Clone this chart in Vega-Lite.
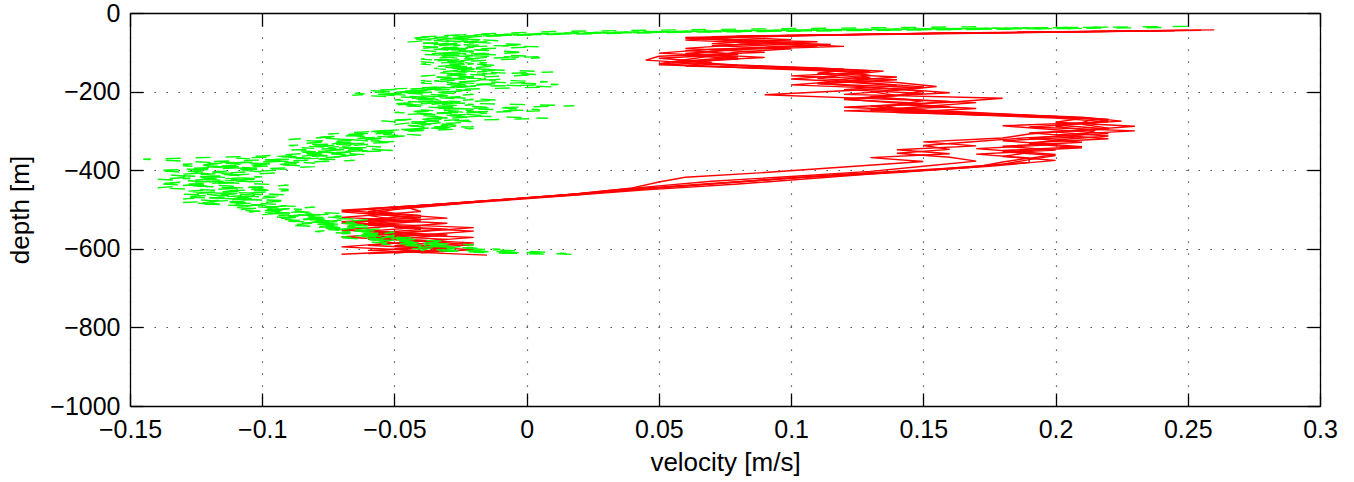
{
"$schema":"https://vega.github.io/schema/vega-lite/v6.json",
"width":1190,"height":393,
"autosize":"none",
"padding":{"left":130,"top":13,"right":34,"bottom":76},
"background":"white",
"config":{"view":{"stroke":null},
"axis":{"domainColor":"black","domainWidth":1.3,"tickColor":"black","tickWidth":1.3,"tickSize":-13,
"labelFont":"Liberation Sans","labelFontSize":25,"labelColor":"black",
"titleFont":"Liberation Sans","titleFontSize":26,"titleFontWeight":"normal","titleColor":"black",
"gridColor":"black","gridDash":[1.3,10.7],"gridWidth":1.2,"gridOpacity":0.8}},
"datasets":{
"red":[
{"s":1,"d":-43,"v":0.26},{"s":1,"d":-48,"v":0.2},{"s":1,"d":-55,"v":0.12},{"s":1,"d":-62,"v":0.06},{"s":1,"d":-70,"v":0.09},{"s":1,"d":-78,"v":0.07},{"s":1,"d":-86,"v":0.1},{"s":1,"d":-95,"v":0.06},{"s":1,"d":-105,"v":0.08},{"s":1,"d":-115,"v":0.05},{"s":1,"d":-125,"v":0.07},{"s":1,"d":-135,"v":0.06},{"s":1,"d":-145,"v":0.12},{"s":1,"d":-155,"v":0.11},{"s":1,"d":-165,"v":0.13},{"s":1,"d":-175,"v":0.12},{"s":1,"d":-185,"v":0.14},{"s":1,"d":-195,"v":0.12},{"s":1,"d":-205,"v":0.15},{"s":1,"d":-215,"v":0.13},{"s":1,"d":-225,"v":0.16},{"s":1,"d":-235,"v":0.14},{"s":1,"d":-245,"v":0.13},{"s":1,"d":-255,"v":0.17},{"s":1,"d":-265,"v":0.21},{"s":1,"d":-275,"v":0.225},{"s":1,"d":-285,"v":0.2},{"s":1,"d":-295,"v":0.22},{"s":1,"d":-305,"v":0.19},{"s":1,"d":-315,"v":0.21},{"s":1,"d":-325,"v":0.18},{"s":1,"d":-335,"v":0.2},{"s":1,"d":-345,"v":0.17},{"s":1,"d":-355,"v":0.19},{"s":1,"d":-365,"v":0.18},{"s":1,"d":-375,"v":0.2},{"s":1,"d":-390,"v":0.175},{"s":1,"d":-405,"v":0.14},{"s":1,"d":-420,"v":0.11},{"s":1,"d":-435,"v":0.08},{"s":1,"d":-450,"v":0.045},{"s":1,"d":-465,"v":0.015},{"s":1,"d":-480,"v":-0.015},{"s":1,"d":-495,"v":-0.045},{"s":1,"d":-505,"v":-0.04},{"s":1,"d":-515,"v":-0.06},{"s":1,"d":-525,"v":-0.05},{"s":1,"d":-535,"v":-0.07},{"s":1,"d":-545,"v":-0.04},{"s":1,"d":-555,"v":-0.06},{"s":1,"d":-565,"v":-0.03},{"s":1,"d":-575,"v":-0.05},{"s":1,"d":-585,"v":-0.02},{"s":1,"d":-595,"v":-0.04},{"s":1,"d":-605,"v":-0.03},{"s":1,"d":-612,"v":-0.06},
{"s":2,"d":-45,"v":0.24},{"s":2,"d":-52,"v":0.15},{"s":2,"d":-60,"v":0.07},{"s":2,"d":-68,"v":0.1},{"s":2,"d":-76,"v":0.08},{"s":2,"d":-84,"v":0.11},{"s":2,"d":-92,"v":0.07},{"s":2,"d":-102,"v":0.05},{"s":2,"d":-112,"v":0.08},{"s":2,"d":-122,"v":0.06},{"s":2,"d":-132,"v":0.05},{"s":2,"d":-142,"v":0.1},{"s":2,"d":-150,"v":0.13},{"s":2,"d":-160,"v":0.1},{"s":2,"d":-170,"v":0.14},{"s":2,"d":-180,"v":0.11},{"s":2,"d":-190,"v":0.15},{"s":2,"d":-200,"v":0.13},{"s":2,"d":-210,"v":0.14},{"s":2,"d":-220,"v":0.12},{"s":2,"d":-230,"v":0.15},{"s":2,"d":-240,"v":0.12},{"s":2,"d":-250,"v":0.16},{"s":2,"d":-260,"v":0.19},{"s":2,"d":-270,"v":0.22},{"s":2,"d":-280,"v":0.215},{"s":2,"d":-290,"v":0.19},{"s":2,"d":-300,"v":0.23},{"s":2,"d":-310,"v":0.2},{"s":2,"d":-320,"v":0.22},{"s":2,"d":-330,"v":0.19},{"s":2,"d":-340,"v":0.21},{"s":2,"d":-350,"v":0.18},{"s":2,"d":-360,"v":0.2},{"s":2,"d":-370,"v":0.19},{"s":2,"d":-380,"v":0.19},{"s":2,"d":-395,"v":0.16},{"s":2,"d":-410,"v":0.12},{"s":2,"d":-425,"v":0.09},{"s":2,"d":-440,"v":0.06},{"s":2,"d":-455,"v":0.03},{"s":2,"d":-470,"v":0.0},{"s":2,"d":-485,"v":-0.03},{"s":2,"d":-498,"v":-0.06},{"s":2,"d":-510,"v":-0.05},{"s":2,"d":-520,"v":-0.07},{"s":2,"d":-530,"v":-0.04},{"s":2,"d":-540,"v":-0.06},{"s":2,"d":-550,"v":-0.03},{"s":2,"d":-560,"v":-0.05},{"s":2,"d":-570,"v":-0.07},{"s":2,"d":-580,"v":-0.04},{"s":2,"d":-590,"v":-0.02},{"s":2,"d":-600,"v":-0.05},{"s":2,"d":-608,"v":-0.04},
{"s":3,"d":-44,"v":0.25},{"s":3,"d":-50,"v":0.17},{"s":3,"d":-58,"v":0.09},{"s":3,"d":-65,"v":0.06},{"s":3,"d":-73,"v":0.11},{"s":3,"d":-81,"v":0.08},{"s":3,"d":-90,"v":0.06},{"s":3,"d":-100,"v":0.09},{"s":3,"d":-110,"v":0.05},{"s":3,"d":-120,"v":0.045},{"s":3,"d":-130,"v":0.07},{"s":3,"d":-140,"v":0.11},{"s":3,"d":-148,"v":0.135},{"s":3,"d":-158,"v":0.12},{"s":3,"d":-168,"v":0.1},{"s":3,"d":-178,"v":0.13},{"s":3,"d":-188,"v":0.15},{"s":3,"d":-198,"v":0.12},{"s":3,"d":-208,"v":0.09},{"s":3,"d":-218,"v":0.13},{"s":3,"d":-228,"v":0.17},{"s":3,"d":-238,"v":0.15},{"s":3,"d":-248,"v":0.13},{"s":3,"d":-258,"v":0.18},{"s":3,"d":-268,"v":0.21},{"s":3,"d":-278,"v":0.2},{"s":3,"d":-288,"v":0.23},{"s":3,"d":-298,"v":0.21},{"s":3,"d":-308,"v":0.19},{"s":3,"d":-318,"v":0.18},{"s":3,"d":-328,"v":0.15},{"s":3,"d":-338,"v":0.17},{"s":3,"d":-348,"v":0.14},{"s":3,"d":-358,"v":0.16},{"s":3,"d":-368,"v":0.13},{"s":3,"d":-378,"v":0.15},{"s":3,"d":-392,"v":0.12},{"s":3,"d":-406,"v":0.09},{"s":3,"d":-418,"v":0.06},{"s":3,"d":-430,"v":0.05},{"s":3,"d":-445,"v":0.04},{"s":3,"d":-460,"v":0.02},{"s":3,"d":-475,"v":-0.01},{"s":3,"d":-490,"v":-0.04},{"s":3,"d":-502,"v":-0.07},{"s":3,"d":-512,"v":-0.05},{"s":3,"d":-522,"v":-0.03},{"s":3,"d":-532,"v":-0.06},{"s":3,"d":-542,"v":-0.05},{"s":3,"d":-552,"v":-0.07},{"s":3,"d":-562,"v":-0.04},{"s":3,"d":-572,"v":-0.06},{"s":3,"d":-582,"v":-0.03},{"s":3,"d":-592,"v":-0.05},{"s":3,"d":-602,"v":-0.02},{"s":3,"d":-610,"v":-0.04},
{"s":4,"d":-46,"v":0.23},{"s":4,"d":-53,"v":0.14},{"s":4,"d":-61,"v":0.08},{"s":4,"d":-69,"v":0.06},{"s":4,"d":-77,"v":0.09},{"s":4,"d":-85,"v":0.12},{"s":4,"d":-93,"v":0.08},{"s":4,"d":-103,"v":0.06},{"s":4,"d":-113,"v":0.09},{"s":4,"d":-123,"v":0.06},{"s":4,"d":-133,"v":0.08},{"s":4,"d":-143,"v":0.12},{"s":4,"d":-153,"v":0.11},{"s":4,"d":-163,"v":0.14},{"s":4,"d":-173,"v":0.12},{"s":4,"d":-183,"v":0.1},{"s":4,"d":-193,"v":0.14},{"s":4,"d":-203,"v":0.16},{"s":4,"d":-213,"v":0.13},{"s":4,"d":-223,"v":0.15},{"s":4,"d":-233,"v":0.14},{"s":4,"d":-243,"v":0.17},{"s":4,"d":-253,"v":0.14},{"s":4,"d":-263,"v":0.2},{"s":4,"d":-273,"v":0.22},{"s":4,"d":-283,"v":0.21},{"s":4,"d":-293,"v":0.22},{"s":4,"d":-303,"v":0.2},{"s":4,"d":-313,"v":0.22},{"s":4,"d":-323,"v":0.2},{"s":4,"d":-333,"v":0.19},{"s":4,"d":-343,"v":0.21},{"s":4,"d":-353,"v":0.18},{"s":4,"d":-363,"v":0.2},{"s":4,"d":-373,"v":0.19},{"s":4,"d":-385,"v":0.18},{"s":4,"d":-400,"v":0.15},{"s":4,"d":-415,"v":0.11},{"s":4,"d":-430,"v":0.08},{"s":4,"d":-445,"v":0.05},{"s":4,"d":-460,"v":0.02},{"s":4,"d":-475,"v":-0.01},{"s":4,"d":-490,"v":-0.04},{"s":4,"d":-505,"v":-0.06},{"s":4,"d":-515,"v":-0.04},{"s":4,"d":-525,"v":-0.06},{"s":4,"d":-535,"v":-0.03},{"s":4,"d":-545,"v":-0.05},{"s":4,"d":-555,"v":-0.02},{"s":4,"d":-565,"v":-0.04},{"s":4,"d":-575,"v":-0.06},{"s":4,"d":-585,"v":-0.05},{"s":4,"d":-595,"v":-0.07},{"s":4,"d":-605,"v":-0.04},{"s":4,"d":-614,"v":-0.07},
{"s":5,"d":-44,"v":0.255},{"s":5,"d":-50,"v":0.19},{"s":5,"d":-57,"v":0.11},{"s":5,"d":-64,"v":0.065},{"s":5,"d":-72,"v":0.08},{"s":5,"d":-80,"v":0.115},{"s":5,"d":-88,"v":0.09},{"s":5,"d":-97,"v":0.07},{"s":5,"d":-107,"v":0.06},{"s":5,"d":-117,"v":0.08},{"s":5,"d":-127,"v":0.055},{"s":5,"d":-137,"v":0.09},{"s":5,"d":-147,"v":0.13},{"s":5,"d":-157,"v":0.12},{"s":5,"d":-167,"v":0.11},{"s":5,"d":-177,"v":0.14},{"s":5,"d":-187,"v":0.155},{"s":5,"d":-197,"v":0.14},{"s":5,"d":-207,"v":0.12},{"s":5,"d":-217,"v":0.18},{"s":5,"d":-227,"v":0.16},{"s":5,"d":-237,"v":0.13},{"s":5,"d":-247,"v":0.15},{"s":5,"d":-257,"v":0.16},{"s":5,"d":-267,"v":0.2},{"s":5,"d":-277,"v":0.22},{"s":5,"d":-287,"v":0.18},{"s":5,"d":-297,"v":0.2},{"s":5,"d":-307,"v":0.22},{"s":5,"d":-317,"v":0.19},{"s":5,"d":-327,"v":0.17},{"s":5,"d":-337,"v":0.15},{"s":5,"d":-347,"v":0.16},{"s":5,"d":-357,"v":0.14},{"s":5,"d":-367,"v":0.16},{"s":5,"d":-377,"v":0.17},{"s":5,"d":-390,"v":0.15},{"s":5,"d":-403,"v":0.13},{"s":5,"d":-416,"v":0.1},{"s":5,"d":-428,"v":0.07},{"s":5,"d":-440,"v":0.05},{"s":5,"d":-452,"v":0.03},{"s":5,"d":-466,"v":0.01},{"s":5,"d":-480,"v":-0.02},{"s":5,"d":-494,"v":-0.05},{"s":5,"d":-506,"v":-0.07},{"s":5,"d":-516,"v":-0.05},{"s":5,"d":-526,"v":-0.04},{"s":5,"d":-536,"v":-0.06},{"s":5,"d":-546,"v":-0.02},{"s":5,"d":-556,"v":-0.04},{"s":5,"d":-566,"v":-0.06},{"s":5,"d":-576,"v":-0.03},{"s":5,"d":-586,"v":-0.05},{"s":5,"d":-596,"v":-0.03},{"s":5,"d":-604,"v":-0.06},{"s":5,"d":-616,"v":-0.015},
{"s":6,"d":-45,"v":0.245},{"s":6,"d":-51,"v":0.16},{"s":6,"d":-59,"v":0.08},{"s":6,"d":-67,"v":0.07},{"s":6,"d":-75,"v":0.1},{"s":6,"d":-83,"v":0.07},{"s":6,"d":-91,"v":0.1},{"s":6,"d":-99,"v":0.08},{"s":6,"d":-109,"v":0.07},{"s":6,"d":-119,"v":0.06},{"s":6,"d":-129,"v":0.05},{"s":6,"d":-139,"v":0.08},{"s":6,"d":-149,"v":0.12},{"s":6,"d":-159,"v":0.13},{"s":6,"d":-169,"v":0.12},{"s":6,"d":-179,"v":0.11},{"s":6,"d":-189,"v":0.13},{"s":6,"d":-199,"v":0.15},{"s":6,"d":-209,"v":0.14},{"s":6,"d":-219,"v":0.12},{"s":6,"d":-229,"v":0.14},{"s":6,"d":-239,"v":0.16},{"s":6,"d":-249,"v":0.12},{"s":6,"d":-259,"v":0.17},{"s":6,"d":-269,"v":0.215},{"s":6,"d":-279,"v":0.21},{"s":6,"d":-289,"v":0.2},{"s":6,"d":-299,"v":0.215},{"s":6,"d":-309,"v":0.21},{"s":6,"d":-319,"v":0.19},{"s":6,"d":-329,"v":0.21},{"s":6,"d":-339,"v":0.18},{"s":6,"d":-349,"v":0.2},{"s":6,"d":-359,"v":0.17},{"s":6,"d":-369,"v":0.19},{"s":6,"d":-379,"v":0.18},{"s":6,"d":-392,"v":0.17},{"s":6,"d":-406,"v":0.14},{"s":6,"d":-420,"v":0.1},{"s":6,"d":-434,"v":0.07},{"s":6,"d":-448,"v":0.04},{"s":6,"d":-462,"v":0.02},{"s":6,"d":-476,"v":-0.01},{"s":6,"d":-488,"v":-0.03},{"s":6,"d":-500,"v":-0.05},{"s":6,"d":-511,"v":-0.06},{"s":6,"d":-521,"v":-0.04},{"s":6,"d":-531,"v":-0.07},{"s":6,"d":-541,"v":-0.05},{"s":6,"d":-551,"v":-0.04},{"s":6,"d":-561,"v":-0.06},{"s":6,"d":-571,"v":-0.02},{"s":6,"d":-581,"v":-0.04},{"s":6,"d":-591,"v":-0.06},{"s":6,"d":-601,"v":-0.03},{"s":6,"d":-611,"v":-0.05}
],
"green":[
{"s":1,"d":-36,"v":0.22},{"s":1,"d":-42,"v":0.12},{"s":1,"d":-48,"v":0.04},{"s":1,"d":-55,"v":-0.01},{"s":1,"d":-62,"v":-0.035},{"s":1,"d":-70,"v":-0.02},{"s":1,"d":-78,"v":-0.04},{"s":1,"d":-86,"v":0.005},{"s":1,"d":-94,"v":-0.03},{"s":1,"d":-102,"v":-0.015},{"s":1,"d":-110,"v":-0.035},{"s":1,"d":-118,"v":-0.02},{"s":1,"d":-126,"v":-0.03},{"s":1,"d":-134,"v":-0.01},{"s":1,"d":-142,"v":-0.025},{"s":1,"d":-150,"v":0.01},{"s":1,"d":-158,"v":-0.03},{"s":1,"d":-166,"v":-0.015},{"s":1,"d":-174,"v":-0.02},{"s":1,"d":-182,"v":0.012},{"s":1,"d":-190,"v":-0.04},{"s":1,"d":-198,"v":-0.02},{"s":1,"d":-206,"v":-0.055},{"s":1,"d":-214,"v":-0.03},{"s":1,"d":-222,"v":-0.01},{"s":1,"d":-230,"v":-0.04},{"s":1,"d":-238,"v":-0.02},{"s":1,"d":-246,"v":0.005},{"s":1,"d":-254,"v":-0.03},{"s":1,"d":-262,"v":-0.015},{"s":1,"d":-270,"v":-0.04},{"s":1,"d":-278,"v":-0.03},{"s":1,"d":-286,"v":-0.045},{"s":1,"d":-294,"v":-0.02},{"s":1,"d":-302,"v":-0.05},{"s":1,"d":-310,"v":-0.07},{"s":1,"d":-318,"v":-0.055},{"s":1,"d":-326,"v":-0.08},{"s":1,"d":-334,"v":-0.06},{"s":1,"d":-342,"v":-0.075},{"s":1,"d":-350,"v":-0.05},{"s":1,"d":-358,"v":-0.085},{"s":1,"d":-366,"v":-0.07},{"s":1,"d":-374,"v":-0.1},{"s":1,"d":-382,"v":-0.08},{"s":1,"d":-390,"v":-0.12},{"s":1,"d":-398,"v":-0.09},{"s":1,"d":-406,"v":-0.11},{"s":1,"d":-414,"v":-0.13},{"s":1,"d":-422,"v":-0.1},{"s":1,"d":-430,"v":-0.12},{"s":1,"d":-438,"v":-0.09},{"s":1,"d":-446,"v":-0.11},{"s":1,"d":-454,"v":-0.13},{"s":1,"d":-462,"v":-0.1},{"s":1,"d":-470,"v":-0.12},{"s":1,"d":-478,"v":-0.09},{"s":1,"d":-486,"v":-0.11},{"s":1,"d":-494,"v":-0.08},{"s":1,"d":-502,"v":-0.1},{"s":1,"d":-510,"v":-0.07},{"s":1,"d":-518,"v":-0.09},{"s":1,"d":-526,"v":-0.06},{"s":1,"d":-534,"v":-0.08},{"s":1,"d":-542,"v":-0.06},{"s":1,"d":-550,"v":-0.07},{"s":1,"d":-558,"v":-0.05},{"s":1,"d":-566,"v":-0.06},{"s":1,"d":-574,"v":-0.04},{"s":1,"d":-582,"v":-0.05},{"s":1,"d":-590,"v":-0.02},{"s":1,"d":-598,"v":-0.03},{"s":1,"d":-606,"v":0.0},{"s":1,"d":-612,"v":0.015},
{"s":2,"d":-38,"v":0.19},{"s":2,"d":-44,"v":0.09},{"s":2,"d":-50,"v":0.02},{"s":2,"d":-57,"v":-0.03},{"s":2,"d":-65,"v":-0.045},{"s":2,"d":-73,"v":-0.025},{"s":2,"d":-81,"v":0.0},{"s":2,"d":-89,"v":-0.035},{"s":2,"d":-97,"v":-0.02},{"s":2,"d":-105,"v":-0.04},{"s":2,"d":-113,"v":-0.015},{"s":2,"d":-121,"v":-0.03},{"s":2,"d":-129,"v":-0.02},{"s":2,"d":-137,"v":-0.035},{"s":2,"d":-145,"v":-0.01},{"s":2,"d":-153,"v":-0.025},{"s":2,"d":-161,"v":-0.04},{"s":2,"d":-169,"v":-0.01},{"s":2,"d":-177,"v":-0.03},{"s":2,"d":-185,"v":-0.02},{"s":2,"d":-193,"v":-0.05},{"s":2,"d":-201,"v":-0.03},{"s":2,"d":-209,"v":-0.066},{"s":2,"d":-217,"v":-0.035},{"s":2,"d":-225,"v":-0.045},{"s":2,"d":-233,"v":-0.02},{"s":2,"d":-241,"v":-0.035},{"s":2,"d":-249,"v":0.005},{"s":2,"d":-257,"v":-0.04},{"s":2,"d":-265,"v":-0.02},{"s":2,"d":-273,"v":-0.05},{"s":2,"d":-281,"v":-0.035},{"s":2,"d":-289,"v":-0.02},{"s":2,"d":-297,"v":-0.05},{"s":2,"d":-305,"v":-0.065},{"s":2,"d":-313,"v":-0.045},{"s":2,"d":-321,"v":-0.07},{"s":2,"d":-329,"v":-0.05},{"s":2,"d":-337,"v":-0.09},{"s":2,"d":-345,"v":-0.065},{"s":2,"d":-353,"v":-0.08},{"s":2,"d":-361,"v":-0.06},{"s":2,"d":-369,"v":-0.11},{"s":2,"d":-377,"v":-0.09},{"s":2,"d":-385,"v":-0.13},{"s":2,"d":-393,"v":-0.11},{"s":2,"d":-401,"v":-0.14},{"s":2,"d":-409,"v":-0.12},{"s":2,"d":-417,"v":-0.1},{"s":2,"d":-425,"v":-0.125},{"s":2,"d":-433,"v":-0.135},{"s":2,"d":-441,"v":-0.11},{"s":2,"d":-449,"v":-0.09},{"s":2,"d":-457,"v":-0.12},{"s":2,"d":-465,"v":-0.1},{"s":2,"d":-473,"v":-0.13},{"s":2,"d":-481,"v":-0.11},{"s":2,"d":-489,"v":-0.09},{"s":2,"d":-497,"v":-0.1},{"s":2,"d":-505,"v":-0.085},{"s":2,"d":-513,"v":-0.1},{"s":2,"d":-521,"v":-0.075},{"s":2,"d":-529,"v":-0.09},{"s":2,"d":-537,"v":-0.07},{"s":2,"d":-545,"v":-0.08},{"s":2,"d":-553,"v":-0.06},{"s":2,"d":-561,"v":-0.07},{"s":2,"d":-569,"v":-0.05},{"s":2,"d":-577,"v":-0.06},{"s":2,"d":-585,"v":-0.035},{"s":2,"d":-593,"v":-0.04},{"s":2,"d":-601,"v":-0.01},{"s":2,"d":-609,"v":-0.02},{"s":2,"d":-614,"v":0.01},
{"s":3,"d":-37,"v":0.24},{"s":3,"d":-43,"v":0.15},{"s":3,"d":-49,"v":0.06},{"s":3,"d":-56,"v":0.0},{"s":3,"d":-63,"v":-0.03},{"s":3,"d":-71,"v":-0.01},{"s":3,"d":-79,"v":-0.03},{"s":3,"d":-87,"v":-0.02},{"s":3,"d":-95,"v":-0.04},{"s":3,"d":-103,"v":-0.025},{"s":3,"d":-111,"v":0.005},{"s":3,"d":-119,"v":-0.035},{"s":3,"d":-127,"v":-0.015},{"s":3,"d":-135,"v":-0.03},{"s":3,"d":-143,"v":-0.02},{"s":3,"d":-151,"v":-0.035},{"s":3,"d":-159,"v":-0.015},{"s":3,"d":-167,"v":-0.03},{"s":3,"d":-175,"v":0.008},{"s":3,"d":-183,"v":-0.025},{"s":3,"d":-191,"v":-0.03},{"s":3,"d":-199,"v":-0.045},{"s":3,"d":-207,"v":-0.02},{"s":3,"d":-215,"v":-0.04},{"s":3,"d":-223,"v":-0.03},{"s":3,"d":-231,"v":-0.05},{"s":3,"d":-239,"v":-0.025},{"s":3,"d":-247,"v":-0.04},{"s":3,"d":-255,"v":-0.015},{"s":3,"d":-263,"v":-0.035},{"s":3,"d":-271,"v":-0.025},{"s":3,"d":-279,"v":-0.045},{"s":3,"d":-287,"v":-0.03},{"s":3,"d":-295,"v":-0.04},{"s":3,"d":-303,"v":-0.06},{"s":3,"d":-311,"v":-0.04},{"s":3,"d":-319,"v":-0.065},{"s":3,"d":-327,"v":-0.05},{"s":3,"d":-335,"v":-0.07},{"s":3,"d":-343,"v":-0.085},{"s":3,"d":-351,"v":-0.06},{"s":3,"d":-359,"v":-0.075},{"s":3,"d":-367,"v":-0.09},{"s":3,"d":-375,"v":-0.065},{"s":3,"d":-383,"v":-0.1},{"s":3,"d":-391,"v":-0.08},{"s":3,"d":-399,"v":-0.11},{"s":3,"d":-407,"v":-0.095},{"s":3,"d":-415,"v":-0.12},{"s":3,"d":-423,"v":-0.14},{"s":3,"d":-431,"v":-0.115},{"s":3,"d":-439,"v":-0.13},{"s":3,"d":-447,"v":-0.1},{"s":3,"d":-455,"v":-0.115},{"s":3,"d":-463,"v":-0.09},{"s":3,"d":-471,"v":-0.11},{"s":3,"d":-479,"v":-0.12},{"s":3,"d":-487,"v":-0.1},{"s":3,"d":-495,"v":-0.11},{"s":3,"d":-503,"v":-0.09},{"s":3,"d":-511,"v":-0.08},{"s":3,"d":-519,"v":-0.095},{"s":3,"d":-527,"v":-0.07},{"s":3,"d":-535,"v":-0.085},{"s":3,"d":-543,"v":-0.065},{"s":3,"d":-551,"v":-0.075},{"s":3,"d":-559,"v":-0.055},{"s":3,"d":-567,"v":-0.065},{"s":3,"d":-575,"v":-0.045},{"s":3,"d":-583,"v":-0.06},{"s":3,"d":-591,"v":-0.03},{"s":3,"d":-599,"v":-0.045},{"s":3,"d":-607,"v":-0.015},{"s":3,"d":-613,"v":0.0},
{"s":4,"d":-35,"v":0.17},{"s":4,"d":-41,"v":0.08},{"s":4,"d":-47,"v":0.01},{"s":4,"d":-54,"v":-0.02},{"s":4,"d":-61,"v":-0.04},{"s":4,"d":-69,"v":-0.015},{"s":4,"d":-77,"v":-0.03},{"s":4,"d":-85,"v":-0.04},{"s":4,"d":-93,"v":-0.015},{"s":4,"d":-101,"v":-0.03},{"s":4,"d":-109,"v":-0.02},{"s":4,"d":-117,"v":-0.04},{"s":4,"d":-125,"v":-0.025},{"s":4,"d":-133,"v":-0.015},{"s":4,"d":-141,"v":-0.035},{"s":4,"d":-149,"v":-0.02},{"s":4,"d":-157,"v":0.005},{"s":4,"d":-165,"v":-0.025},{"s":4,"d":-173,"v":-0.035},{"s":4,"d":-181,"v":-0.015},{"s":4,"d":-189,"v":-0.025},{"s":4,"d":-197,"v":-0.06},{"s":4,"d":-205,"v":-0.04},{"s":4,"d":-213,"v":-0.025},{"s":4,"d":-221,"v":-0.05},{"s":4,"d":-229,"v":-0.03},{"s":4,"d":-237,"v":-0.045},{"s":4,"d":-245,"v":-0.02},{"s":4,"d":-253,"v":-0.05},{"s":4,"d":-261,"v":-0.025},{"s":4,"d":-269,"v":-0.035},{"s":4,"d":-277,"v":-0.02},{"s":4,"d":-285,"v":-0.04},{"s":4,"d":-293,"v":-0.03},{"s":4,"d":-301,"v":-0.045},{"s":4,"d":-309,"v":-0.06},{"s":4,"d":-317,"v":-0.08},{"s":4,"d":-325,"v":-0.06},{"s":4,"d":-333,"v":-0.075},{"s":4,"d":-341,"v":-0.055},{"s":4,"d":-349,"v":-0.09},{"s":4,"d":-357,"v":-0.07},{"s":4,"d":-365,"v":-0.095},{"s":4,"d":-373,"v":-0.075},{"s":4,"d":-381,"v":-0.11},{"s":4,"d":-389,"v":-0.13},{"s":4,"d":-397,"v":-0.1},{"s":4,"d":-405,"v":-0.12},{"s":4,"d":-413,"v":-0.11},{"s":4,"d":-421,"v":-0.13},{"s":4,"d":-429,"v":-0.105},{"s":4,"d":-437,"v":-0.125},{"s":4,"d":-445,"v":-0.14},{"s":4,"d":-453,"v":-0.11},{"s":4,"d":-461,"v":-0.13},{"s":4,"d":-469,"v":-0.095},{"s":4,"d":-477,"v":-0.115},{"s":4,"d":-485,"v":-0.125},{"s":4,"d":-493,"v":-0.095},{"s":4,"d":-501,"v":-0.11},{"s":4,"d":-509,"v":-0.09},{"s":4,"d":-517,"v":-0.07},{"s":4,"d":-525,"v":-0.085},{"s":4,"d":-533,"v":-0.065},{"s":4,"d":-541,"v":-0.075},{"s":4,"d":-549,"v":-0.055},{"s":4,"d":-557,"v":-0.07},{"s":4,"d":-565,"v":-0.05},{"s":4,"d":-573,"v":-0.055},{"s":4,"d":-581,"v":-0.03},{"s":4,"d":-589,"v":-0.045},{"s":4,"d":-597,"v":-0.02},{"s":4,"d":-605,"v":-0.03},{"s":4,"d":-611,"v":0.005},
{"s":5,"d":-34,"v":0.25},{"s":5,"d":-40,"v":0.16},{"s":5,"d":-46,"v":0.07},{"s":5,"d":-53,"v":0.01},{"s":5,"d":-60,"v":-0.025},{"s":5,"d":-68,"v":-0.04},{"s":5,"d":-76,"v":-0.02},{"s":5,"d":-84,"v":-0.035},{"s":5,"d":-92,"v":-0.025},{"s":5,"d":-100,"v":0.0},{"s":5,"d":-108,"v":-0.03},{"s":5,"d":-116,"v":-0.02},{"s":5,"d":-124,"v":-0.04},{"s":5,"d":-132,"v":-0.025},{"s":5,"d":-140,"v":-0.03},{"s":5,"d":-148,"v":-0.015},{"s":5,"d":-156,"v":-0.03},{"s":5,"d":-164,"v":-0.02},{"s":5,"d":-172,"v":-0.04},{"s":5,"d":-180,"v":-0.025},{"s":5,"d":-188,"v":0.01},{"s":5,"d":-196,"v":-0.035},{"s":5,"d":-204,"v":-0.065},{"s":5,"d":-212,"v":-0.045},{"s":5,"d":-220,"v":-0.02},{"s":5,"d":-228,"v":-0.035},{"s":5,"d":-236,"v":0.018},{"s":5,"d":-244,"v":-0.03},{"s":5,"d":-252,"v":-0.045},{"s":5,"d":-260,"v":-0.03},{"s":5,"d":-268,"v":0.008},{"s":5,"d":-276,"v":-0.04},{"s":5,"d":-284,"v":-0.05},{"s":5,"d":-292,"v":-0.035},{"s":5,"d":-300,"v":-0.055},{"s":5,"d":-308,"v":-0.075},{"s":5,"d":-316,"v":-0.05},{"s":5,"d":-324,"v":-0.065},{"s":5,"d":-332,"v":-0.085},{"s":5,"d":-340,"v":-0.07},{"s":5,"d":-348,"v":-0.055},{"s":5,"d":-356,"v":-0.08},{"s":5,"d":-364,"v":-0.1},{"s":5,"d":-372,"v":-0.145},{"s":5,"d":-380,"v":-0.12},{"s":5,"d":-388,"v":-0.1},{"s":5,"d":-396,"v":-0.13},{"s":5,"d":-404,"v":-0.115},{"s":5,"d":-412,"v":-0.135},{"s":5,"d":-420,"v":-0.12},{"s":5,"d":-428,"v":-0.1},{"s":5,"d":-436,"v":-0.13},{"s":5,"d":-444,"v":-0.115},{"s":5,"d":-452,"v":-0.09},{"s":5,"d":-460,"v":-0.11},{"s":5,"d":-468,"v":-0.13},{"s":5,"d":-476,"v":-0.1},{"s":5,"d":-484,"v":-0.12},{"s":5,"d":-492,"v":-0.105},{"s":5,"d":-500,"v":-0.085},{"s":5,"d":-508,"v":-0.1},{"s":5,"d":-516,"v":-0.08},{"s":5,"d":-524,"v":-0.095},{"s":5,"d":-532,"v":-0.075},{"s":5,"d":-540,"v":-0.09},{"s":5,"d":-548,"v":-0.065},{"s":5,"d":-556,"v":-0.08},{"s":5,"d":-564,"v":-0.06},{"s":5,"d":-572,"v":-0.07},{"s":5,"d":-580,"v":-0.05},{"s":5,"d":-588,"v":-0.055},{"s":5,"d":-596,"v":-0.035},{"s":5,"d":-604,"v":-0.04},{"s":5,"d":-610,"v":-0.01},
{"s":6,"d":-39,"v":0.21},{"s":6,"d":-45,"v":0.11},{"s":6,"d":-51,"v":0.03},{"s":6,"d":-58,"v":-0.015},{"s":6,"d":-66,"v":-0.03},{"s":6,"d":-74,"v":-0.045},{"s":6,"d":-82,"v":-0.025},{"s":6,"d":-90,"v":-0.04},{"s":6,"d":-98,"v":-0.02},{"s":6,"d":-106,"v":-0.035},{"s":6,"d":-114,"v":0.005},{"s":6,"d":-122,"v":-0.02},{"s":6,"d":-130,"v":-0.04},{"s":6,"d":-138,"v":-0.02},{"s":6,"d":-146,"v":-0.03},{"s":6,"d":-154,"v":-0.015},{"s":6,"d":-162,"v":-0.035},{"s":6,"d":-170,"v":-0.025},{"s":6,"d":-178,"v":-0.04},{"s":6,"d":-186,"v":-0.02},{"s":6,"d":-194,"v":-0.035},{"s":6,"d":-202,"v":-0.05},{"s":6,"d":-210,"v":-0.03},{"s":6,"d":-218,"v":-0.045},{"s":6,"d":-226,"v":-0.025},{"s":6,"d":-234,"v":-0.05},{"s":6,"d":-242,"v":-0.03},{"s":6,"d":-250,"v":-0.02},{"s":6,"d":-258,"v":-0.045},{"s":6,"d":-266,"v":-0.03},{"s":6,"d":-274,"v":-0.055},{"s":6,"d":-282,"v":-0.04},{"s":6,"d":-290,"v":-0.025},{"s":6,"d":-298,"v":-0.045},{"s":6,"d":-306,"v":-0.055},{"s":6,"d":-314,"v":-0.07},{"s":6,"d":-322,"v":-0.09},{"s":6,"d":-330,"v":-0.07},{"s":6,"d":-338,"v":-0.08},{"s":6,"d":-346,"v":-0.06},{"s":6,"d":-354,"v":-0.085},{"s":6,"d":-362,"v":-0.065},{"s":6,"d":-370,"v":-0.08},{"s":6,"d":-378,"v":-0.12},{"s":6,"d":-386,"v":-0.09},{"s":6,"d":-394,"v":-0.11},{"s":6,"d":-402,"v":-0.13},{"s":6,"d":-410,"v":-0.105},{"s":6,"d":-418,"v":-0.125},{"s":6,"d":-426,"v":-0.11},{"s":6,"d":-434,"v":-0.14},{"s":6,"d":-442,"v":-0.12},{"s":6,"d":-450,"v":-0.105},{"s":6,"d":-458,"v":-0.125},{"s":6,"d":-466,"v":-0.115},{"s":6,"d":-474,"v":-0.1},{"s":6,"d":-482,"v":-0.13},{"s":6,"d":-490,"v":-0.11},{"s":6,"d":-498,"v":-0.09},{"s":6,"d":-506,"v":-0.105},{"s":6,"d":-514,"v":-0.085},{"s":6,"d":-522,"v":-0.07},{"s":6,"d":-530,"v":-0.09},{"s":6,"d":-538,"v":-0.06},{"s":6,"d":-546,"v":-0.08},{"s":6,"d":-554,"v":-0.065},{"s":6,"d":-562,"v":-0.055},{"s":6,"d":-570,"v":-0.07},{"s":6,"d":-578,"v":-0.045},{"s":6,"d":-586,"v":-0.05},{"s":6,"d":-594,"v":-0.025},{"s":6,"d":-602,"v":-0.035},{"s":6,"d":-608,"v":-0.005},{"s":6,"d":-615,"v":0.02}
]},
"layer":[
{"data":{"name":"red"},
"mark":{"type":"line","color":"#ff0000","strokeWidth":1.4,"clip":true},
"encoding":{
"x":{"field":"v","type":"quantitative","scale":{"domain":[-0.15,0.3],"nice":false,"zero":false},
"axis":{"orient":"bottom","title":"velocity [m/s]","values":[-0.15,-0.1,-0.05,0,0.05,0.1,0.15,0.2,0.25,0.3],"labelExpr":"replace(format(datum.value,'~g'),'-','\u2212')","labelPadding":24,"labelFlush":false,"labelOverlap":false,"titleX":595,"titleY":64,"titleBaseline":"alphabetic","titleAnchor":"middle","grid":true}},
"y":{"field":"d","type":"quantitative","scale":{"domain":[-1000,0],"nice":false,"zero":false},
"axis":{"orient":"left","title":"depth [m]","values":[-1000,-800,-600,-400,-200,0],"labelExpr":"replace(format(datum.value,'~g'),'-','\u2212')","labelPadding":23,"labelFlush":false,"labelOverlap":false,"titleX":-102,"titleY":196.5,"titleAngle":-90,"titleBaseline":"alphabetic","titleAnchor":"middle","grid":true}},
"detail":{"field":"s"},
"order":{"field":"d","sort":"descending"}}},
{"data":{"name":"green"},
"mark":{"type":"line","color":"#00ff00","strokeWidth":1.4,"strokeDash":[15,15],"clip":true},
"encoding":{
"x":{"field":"v","type":"quantitative","scale":{"domain":[-0.15,0.3],"nice":false,"zero":false},
"axis":{"orient":"top","title":null,"labels":false,"grid":false,"values":[-0.15,-0.1,-0.05,0,0.05,0.1,0.15,0.2,0.25,0.3]}},
"y":{"field":"d","type":"quantitative","scale":{"domain":[-1000,0],"nice":false,"zero":false},
"axis":{"orient":"right","title":null,"labels":false,"grid":false,"values":[-1000,-800,-600,-400,-200,0]}},
"detail":{"field":"s"},
"order":{"field":"d","sort":"descending"}}}
],
"resolve":{"axis":{"x":"independent","y":"independent"}}
}
